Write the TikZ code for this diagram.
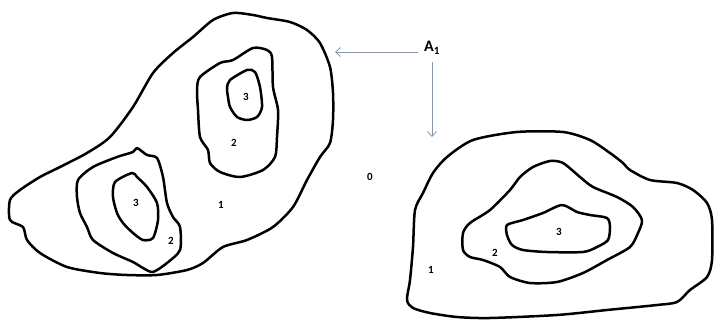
\documentclass[tikz,border=0pt]{standalone}
\usepackage{fontspec}
\setmainfont{Carlito}
\usetikzlibrary{arrows.meta}
\definecolor{arrowblue}{HTML}{7F98B8}
\tikzset{
  contour/.style={line width=2.5pt, line join=round, black},
  lbl/.style={font=\bfseries\fontsize{11}{12}\selectfont, inner sep=0pt},
  pointer/.style={arrowblue, line width=0.8pt, -{Straight Barb[length=5pt,width=9pt,line width=0.8pt]}},
}
\begin{document}
\begin{tikzpicture}[x=1pt,y=-1pt]
\useasboundingbox (0,0) rectangle (714,320);
% left outer contour
\draw[contour] plot[smooth cycle, tension=0.45] coordinates {
 (233,13) (253,15) (267,18) (290,22) (307,30) (320,43) (330,67) (333,93)
 (333,120) (330,143) (320,157) (307,180) (293,207) (273,227) (247,240)
 (223,247) (203,263) (187,270) (157,275) (127,275) (100,273) (67,267)
 (40,253) (27,240) (23,227) (10,220) (10,200) (20,190) (40,177) (60,167)
 (87,153) (110,137) (133,107) (153,73) (173,53) (193,37) (213,20)};
% upper right 2
\draw[contour] plot[smooth cycle, tension=0.45] coordinates {
 (200,77) (220,63) (233,60) (253,48) (267,50) (272,57) (273,87) (278,110)
 (277,137) (275,157) (263,170) (240,177) (220,172) (210,163) (208,150)
 (200,137) (198,110) (197,90)};
% upper 3
\draw[contour] plot[smooth cycle, tension=0.45] coordinates {
 (230,80) (247,70) (255,72) (260,87) (262,107) (257,117) (247,120)
 (237,117) (230,107) (228,97) (227,88)};
% lower left 2
\draw[contour] plot[smooth cycle, tension=0.45] coordinates {
 (78,180) (93,167) (117,157) (133,152) (137,148) (147,155) (157,158)
 (163,177) (167,203) (173,217) (180,227) (180,250) (167,263) (153,272)
 (143,268) (133,262) (113,253) (93,240) (87,227) (80,213) (77,197)};
% lower left 3
\draw[contour] plot[smooth cycle, tension=0.45] coordinates {
 (115,182) (132,173) (137,177) (147,187) (157,203) (158,220) (153,238)
 (143,240) (133,233) (123,223) (117,213) (113,197)};
% right outer
\draw[contour] plot[smooth cycle, tension=0.45] coordinates {
 (407,300) (410,280) (413,247) (415,210) (423,193) (433,173) (447,157)
 (473,140) (517,132) (563,132) (590,140) (610,153) (623,163) (630,170)
 (650,180) (677,183) (693,190) (707,203) (712,220) (712,260) (707,277)
 (690,290) (677,302) (657,305) (607,310) (557,315) (490,318) (457,317)
 (430,313) (413,308)};
% right 2
\draw[contour] plot[smooth cycle, tension=0.45] coordinates {
 (463,250) (463,233) (470,223) (490,210) (510,190) (520,177) (533,167)
 (550,161) (563,163) (580,177) (593,187) (617,197) (633,207) (642,220)
 (638,233) (630,247) (607,260) (583,273) (557,282) (530,283) (510,277)
 (500,267) (483,260) (470,257)};
% right 3
\draw[contour] plot[smooth cycle, tension=0.45] coordinates {
 (507,225) (523,220) (543,213) (562,205) (577,212) (590,215) (607,218)
 (610,227) (608,240) (597,247) (583,252) (547,252) (523,250) (512,245)
 (507,235)};
% labels
\node[lbl] (u3) at (246,97) {3};
\node[lbl] (u2) at (234,143) {2};
\node[lbl] (l3) at (136,203) {3};
\node[lbl] (l2) at (171,241) {2};
\node[lbl] (one) at (221,205) {1};
\node[lbl] (zero) at (370,177) {0};
\node[lbl] (r3) at (559,232) {3};
\node[lbl] (r2) at (495,253) {2};
\node[lbl] (r1) at (431,270) {1};
% A1 and arrows
\node[font=\bfseries\fontsize{16}{17}\selectfont, inner sep=0pt] (A1) at (432,48) {A\textsubscript{1}};
\coordinate (leftend) at (335,52);
\coordinate (downend) at (432,137);
\coordinate (ls) at (418,52);
\coordinate (ds) at (432,62);
\draw[pointer] (ls) -- (leftend);
\draw[pointer] (ds) -- (downend);
\end{tikzpicture}
\end{document}
